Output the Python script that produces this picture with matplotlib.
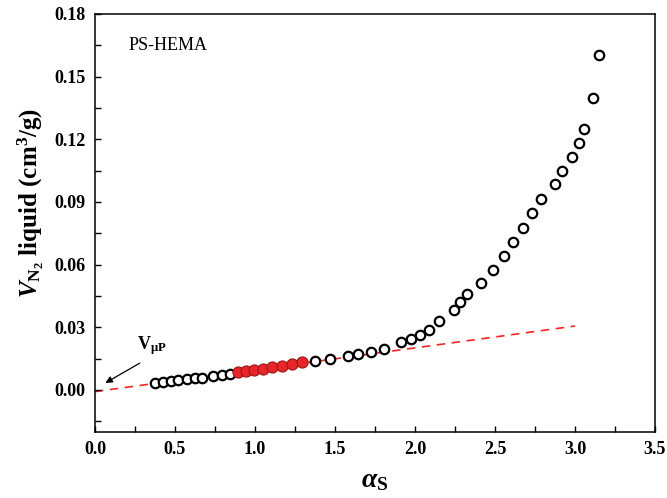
import matplotlib
matplotlib.use('Agg')
import matplotlib.pyplot as plt
from matplotlib.ticker import MultipleLocator, FormatStrFormatter

# alpha_s plot data, PS-HEMA
open_x1 = [0.375, 0.425, 0.475, 0.519, 0.575, 0.625, 0.669, 0.738, 0.794, 0.844]
open_y1 = [0.0032, 0.0037, 0.0042, 0.0046, 0.0051, 0.0056, 0.0058, 0.0065, 0.0070, 0.0075]
red_x = [0.894, 0.944, 0.994, 1.050, 1.106, 1.169, 1.231, 1.294]
red_y = [0.0085, 0.0089, 0.0094, 0.0101, 0.0108, 0.0116, 0.0123, 0.0132]
open_x2 = [1.375, 1.469, 1.581, 1.644, 1.725, 1.806, 1.913, 1.975, 2.031, 2.088, 2.150,
           2.244, 2.281, 2.325, 2.413, 2.488, 2.556, 2.613, 2.675, 2.731, 2.788, 2.875,
           2.919, 2.981, 3.025, 3.056, 3.113, 3.150]
open_y2 = [0.0137, 0.0149, 0.0163, 0.0173, 0.0180, 0.0197, 0.0228, 0.0245, 0.0261, 0.0285, 0.0328,
           0.0381, 0.0419, 0.0460, 0.0510, 0.0572, 0.0639, 0.0710, 0.0777, 0.0849, 0.0916, 0.0985,
           0.1050, 0.1117, 0.1184, 0.1250, 0.1396, 0.1606]
fit_x = [0.0, 3.0]
fit_y = [-0.0008, 0.0306]

plt.rcParams['font.family'] = ['Liberation Serif', 'DejaVu Serif']
plt.rcParams['mathtext.fontset'] = 'custom'
plt.rcParams['mathtext.rm'] = 'Liberation Serif:bold'
plt.rcParams['mathtext.it'] = 'Liberation Serif:italic:bold'
plt.rcParams['mathtext.bf'] = 'Liberation Serif:bold'

fig = plt.figure(figsize=(6.67, 4.98), dpi=100)
ax = fig.add_axes([0.1424, 0.1331, 0.8396, 0.8388])

ax.plot(fit_x, fit_y, color='#ff2020', linestyle=(0, (5, 4)), linewidth=1.2, zorder=1)
ax.plot(open_x1, open_y1, 'o', mfc='white', mec='black', mew=1.6, ms=6.8, zorder=2)
ax.plot(open_x2, open_y2, 'o', mfc='white', mec='black', mew=1.6, ms=6.8, zorder=2)
ax.plot(red_x, red_y, 'o', mfc='#e8262a', mec='#a01515', mew=0.8, ms=8, zorder=3)

ax.text(0.21, 0.165, 'PS-HEMA', fontsize=13, va='center', ha='left')
ax.annotate('', xy=(0.05, 0.0027), xytext=(0.295, 0.0135),
            arrowprops=dict(arrowstyle='-|>', color='black', lw=0.9, mutation_scale=10))
ax.text(0.265, 0.0156, r'V$_{\mathbf{\mu P}}$', fontsize=13, fontweight='bold', ha='left', va='bottom')

ax.set_xlim(0.0, 3.5)
ax.set_ylim(-0.02, 0.18)
ax.xaxis.set_major_locator(MultipleLocator(0.5))
ax.xaxis.set_minor_locator(MultipleLocator(0.25))
ax.yaxis.set_major_locator(MultipleLocator(0.03))
ax.yaxis.set_minor_locator(MultipleLocator(0.015))
ax.xaxis.set_major_formatter(FormatStrFormatter('%.1f'))
ax.yaxis.set_major_formatter(FormatStrFormatter('%.2f'))
ax.tick_params(which='both', direction='in', top=False, right=False, width=1.0)
ax.tick_params(which='major', length=4, labelsize=13, pad=7)
ax.tick_params(which='minor', length=4)
for lab in ax.get_xticklabels() + ax.get_yticklabels():
    lab.set_fontweight('bold')
for s in ax.spines.values():
    s.set_linewidth(1.1)

ax.set_xlabel(r'$\alpha_{\mathrm{S}}$', fontsize=20, labelpad=7)
ax.set_ylabel(r'$\mathit{V}_{\mathbf{N_{2}}}$ liquid (cm$^{3}$/g)', fontsize=18, fontweight='bold')
ax.yaxis.set_label_coords(-0.087, 0.548)

fig.savefig('out.png', dpi=100)
